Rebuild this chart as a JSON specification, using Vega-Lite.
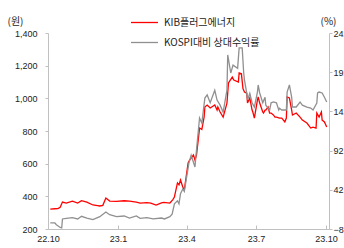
{
  "$schema": "https://vega.github.io/schema/vega-lite/v6.json",
  "width": 281,
  "height": 196,
  "autosize": {"type": "none"},
  "padding": {"left": 48, "top": 33, "right": 15, "bottom": 19},
  "background": "white",
  "config": {
    "view": {"stroke": null},
    "axis": {
      "labelFont": "Liberation Sans",
      "labelFontSize": 9,
      "labelColor": "#222",
      "domainColor": "#c0c0c0",
      "tickColor": "#c0c0c0",
      "grid": false,
      "titleFont": "Noto Sans CJK KR",
      "titleFontSize": 10,
      "titleFontWeight": "normal",
      "titleColor": "#222"
    }
  },
  "datasets": {
    "price": [
      {"d": "2022-10-04", "v": 322}, {"d": "2022-10-10", "v": 324}, {"d": "2022-10-14", "v": 325},
      {"d": "2022-10-17", "v": 333}, {"d": "2022-10-20", "v": 365}, {"d": "2022-10-25", "v": 359},
      {"d": "2022-11-02", "v": 371}, {"d": "2022-11-09", "v": 359}, {"d": "2022-11-14", "v": 373},
      {"d": "2022-11-21", "v": 365}, {"d": "2022-11-29", "v": 347}, {"d": "2022-12-05", "v": 343},
      {"d": "2022-12-08", "v": 341}, {"d": "2022-12-12", "v": 345}, {"d": "2022-12-16", "v": 390},
      {"d": "2022-12-21", "v": 371}, {"d": "2022-12-30", "v": 369}, {"d": "2023-01-09", "v": 373},
      {"d": "2023-01-16", "v": 371}, {"d": "2023-01-25", "v": 365}, {"d": "2023-01-30", "v": 359},
      {"d": "2023-02-08", "v": 362}, {"d": "2023-02-13", "v": 359}, {"d": "2023-02-20", "v": 347},
      {"d": "2023-02-27", "v": 360}, {"d": "2023-03-02", "v": 363}, {"d": "2023-03-10", "v": 359},
      {"d": "2023-03-14", "v": 380}, {"d": "2023-03-16", "v": 396}, {"d": "2023-03-20", "v": 482},
      {"d": "2023-03-22", "v": 470}, {"d": "2023-03-24", "v": 500}, {"d": "2023-03-27", "v": 457},
      {"d": "2023-03-29", "v": 440}, {"d": "2023-04-03", "v": 604}, {"d": "2023-04-05", "v": 622},
      {"d": "2023-04-10", "v": 653}, {"d": "2023-04-12", "v": 622}, {"d": "2023-04-14", "v": 653},
      {"d": "2023-04-17", "v": 775}, {"d": "2023-04-18", "v": 818}, {"d": "2023-04-21", "v": 810},
      {"d": "2023-04-24", "v": 885}, {"d": "2023-04-25", "v": 947}, {"d": "2023-04-28", "v": 959},
      {"d": "2023-05-02", "v": 941}, {"d": "2023-05-08", "v": 959}, {"d": "2023-05-11", "v": 928},
      {"d": "2023-05-12", "v": 947}, {"d": "2023-05-15", "v": 916}, {"d": "2023-05-19", "v": 885},
      {"d": "2023-05-24", "v": 971}, {"d": "2023-05-26", "v": 1094}, {"d": "2023-05-31", "v": 1130},
      {"d": "2023-06-02", "v": 1112}, {"d": "2023-06-08", "v": 1100}, {"d": "2023-06-09", "v": 1155},
      {"d": "2023-06-12", "v": 1150}, {"d": "2023-06-14", "v": 1060}, {"d": "2023-06-16", "v": 1038},
      {"d": "2023-06-19", "v": 1032}, {"d": "2023-06-20", "v": 971}, {"d": "2023-06-23", "v": 1002},
      {"d": "2023-06-26", "v": 928}, {"d": "2023-06-27", "v": 916}, {"d": "2023-06-29", "v": 879},
      {"d": "2023-07-03", "v": 989}, {"d": "2023-07-04", "v": 1008}, {"d": "2023-07-06", "v": 971},
      {"d": "2023-07-10", "v": 916}, {"d": "2023-07-11", "v": 910}, {"d": "2023-07-13", "v": 928},
      {"d": "2023-07-14", "v": 928}, {"d": "2023-07-17", "v": 947}, {"d": "2023-07-19", "v": 910},
      {"d": "2023-07-21", "v": 910}, {"d": "2023-07-24", "v": 898}, {"d": "2023-07-26", "v": 885},
      {"d": "2023-07-28", "v": 885}, {"d": "2023-08-01", "v": 879}, {"d": "2023-08-04", "v": 879},
      {"d": "2023-08-08", "v": 855}, {"d": "2023-08-10", "v": 879}, {"d": "2023-08-11", "v": 1008},
      {"d": "2023-08-14", "v": 1002}, {"d": "2023-08-17", "v": 928}, {"d": "2023-08-18", "v": 898},
      {"d": "2023-08-23", "v": 910}, {"d": "2023-08-28", "v": 885}, {"d": "2023-08-31", "v": 867},
      {"d": "2023-09-06", "v": 849}, {"d": "2023-09-11", "v": 818}, {"d": "2023-09-14", "v": 824},
      {"d": "2023-09-18", "v": 818}, {"d": "2023-09-19", "v": 910}, {"d": "2023-09-22", "v": 885},
      {"d": "2023-09-25", "v": 916}, {"d": "2023-09-26", "v": 867}, {"d": "2023-09-29", "v": 855},
      {"d": "2023-10-02", "v": 824}
    ],
    "rel": [
      {"d": "2022-10-04", "v": -0.3}, {"d": "2022-10-10", "v": -0.3}, {"d": "2022-10-12", "v": -2.5},
      {"d": "2022-10-17", "v": -6}, {"d": "2022-10-19", "v": -6.5}, {"d": "2022-10-20", "v": 4.8},
      {"d": "2022-10-25", "v": 5.6}, {"d": "2022-11-02", "v": 6.4}, {"d": "2022-11-09", "v": 4.8},
      {"d": "2022-11-14", "v": 8.2}, {"d": "2022-11-21", "v": 6}, {"d": "2022-11-29", "v": 3.9},
      {"d": "2022-12-05", "v": 6.4}, {"d": "2022-12-08", "v": 7.7}, {"d": "2022-12-16", "v": 13.7},
      {"d": "2022-12-21", "v": 10.2}, {"d": "2022-12-30", "v": 7.7}, {"d": "2023-01-09", "v": 8.6},
      {"d": "2023-01-16", "v": 6}, {"d": "2023-01-25", "v": 8.6}, {"d": "2023-01-30", "v": 5.6},
      {"d": "2023-02-08", "v": 6.4}, {"d": "2023-02-16", "v": 4.8}, {"d": "2023-02-27", "v": 6},
      {"d": "2023-03-03", "v": 4.8}, {"d": "2023-03-10", "v": 7.7}, {"d": "2023-03-13", "v": 11},
      {"d": "2023-03-16", "v": 24}, {"d": "2023-03-20", "v": 28}, {"d": "2023-03-22", "v": 24},
      {"d": "2023-03-24", "v": 37}, {"d": "2023-03-27", "v": 43}, {"d": "2023-03-29", "v": 40},
      {"d": "2023-04-04", "v": 76}, {"d": "2023-04-07", "v": 86}, {"d": "2023-04-12", "v": 71},
      {"d": "2023-04-14", "v": 93}, {"d": "2023-04-18", "v": 133.6}, {"d": "2023-04-21", "v": 127},
      {"d": "2023-04-25", "v": 159}, {"d": "2023-04-28", "v": 163}, {"d": "2023-05-02", "v": 153},
      {"d": "2023-05-08", "v": 169}, {"d": "2023-05-11", "v": 156.5}, {"d": "2023-05-15", "v": 150},
      {"d": "2023-05-19", "v": 141}, {"d": "2023-05-24", "v": 169}, {"d": "2023-05-25", "v": 214},
      {"d": "2023-05-29", "v": 191}, {"d": "2023-06-01", "v": 201}, {"d": "2023-06-07", "v": 197},
      {"d": "2023-06-09", "v": 223}, {"d": "2023-06-13", "v": 223}, {"d": "2023-06-15", "v": 191},
      {"d": "2023-06-16", "v": 182}, {"d": "2023-06-19", "v": 165}, {"d": "2023-06-20", "v": 156.5},
      {"d": "2023-06-23", "v": 165}, {"d": "2023-06-26", "v": 153}, {"d": "2023-06-29", "v": 147.6},
      {"d": "2023-07-03", "v": 166.7}, {"d": "2023-07-04", "v": 175.7}, {"d": "2023-07-06", "v": 165.5},
      {"d": "2023-07-10", "v": 153}, {"d": "2023-07-13", "v": 160}, {"d": "2023-07-14", "v": 150},
      {"d": "2023-07-19", "v": 143.8}, {"d": "2023-07-21", "v": 153}, {"d": "2023-07-24", "v": 154},
      {"d": "2023-07-28", "v": 153}, {"d": "2023-07-31", "v": 143.8}, {"d": "2023-08-01", "v": 146},
      {"d": "2023-08-04", "v": 143.8}, {"d": "2023-08-10", "v": 143.8}, {"d": "2023-08-11", "v": 166.7},
      {"d": "2023-08-14", "v": 175.7}, {"d": "2023-08-17", "v": 160}, {"d": "2023-08-18", "v": 147.6},
      {"d": "2023-08-23", "v": 147.6}, {"d": "2023-08-28", "v": 154}, {"d": "2023-08-31", "v": 150},
      {"d": "2023-09-06", "v": 147.6}, {"d": "2023-09-11", "v": 146.3}, {"d": "2023-09-14", "v": 143.8},
      {"d": "2023-09-19", "v": 152.7}, {"d": "2023-09-20", "v": 165.5}, {"d": "2023-09-22", "v": 166.7},
      {"d": "2023-09-26", "v": 165.5}, {"d": "2023-09-29", "v": 160}, {"d": "2023-10-02", "v": 154}
    ]
  },
  "layer": [
    {
      "data": {"name": "price"},
      "mark": {"type": "line", "strokeWidth": 1.3, "interpolate": "linear"},
      "encoding": {
        "x": {
          "field": "d", "type": "temporal",
          "scale": {"type": "utc", "domain": [{"year": 2022, "month": 10, "date": 1, "utc": true}, {"year": 2023, "month": 10, "date": 5, "utc": true}]},
          "axis": {
            "title": null,
            "format": "%y.%-m",
            "values": [
              {"year": 2022, "month": 10, "date": 1, "utc": true},
              {"year": 2023, "month": 1, "date": 1, "utc": true},
              {"year": 2023, "month": 4, "date": 1, "utc": true},
              {"year": 2023, "month": 7, "date": 1, "utc": true},
              {"year": 2023, "month": 10, "date": 1, "utc": true}
            ],
            "tickSize": -4,
            "labelPadding": 9,
            "labelFlush": false,
            "labelOverlap": false
          }
        },
        "y": {
          "field": "v", "type": "quantitative",
          "scale": {"domain": [200, 1400], "nice": false, "zero": false},
          "axis": {
            "orient": "left",
            "values": [200, 400, 600, 800, 1000, 1200, 1400],
            "format": ",d",
            "tickSize": 3,
            "labelPadding": 8,
            "title": "(원)",
            "titleAngle": 0,
            "titleAlign": "center",
            "titleBaseline": "middle",
            "titleX": -33,
            "titleY": -12
          }
        },
        "color": {
          "datum": "KIB플러그에너지",
          "type": "nominal",
          "scale": {"domain": ["KIB플러그에너지", "KOSPI대비 상대수익률"], "range": ["#ff0000", "#909090"]},
          "legend": {
            "title": null,
            "orient": "none",
            "legendX": 82,
            "legendY": -25,
            "symbolType": "stroke",
            "symbolSize": 729,
            "symbolStrokeWidth": 1.3,
            "labelFont": "Noto Sans CJK KR",
            "labelFontSize": 10,
            "labelColor": "#222",
            "labelOffset": 5,
            "rowPadding": -10
          }
        }
      }
    },
    {
      "data": {"name": "rel"},
      "mark": {"type": "line", "strokeWidth": 1.3, "interpolate": "linear"},
      "encoding": {
        "x": {"field": "d", "type": "temporal"},
        "y": {
          "field": "v", "type": "quantitative",
          "scale": {"domain": [-8, 242], "nice": false, "zero": false},
          "axis": {
            "orient": "right",
            "values": [-8, 42, 92, 142, 192, 242],
            "tickSize": 3,
            "labelPadding": 1,
            "title": "(%)",
            "titleAngle": 0,
            "titleAlign": "center",
            "titleBaseline": "middle",
            "titleX": -1,
            "titleY": -12
          }
        },
        "color": {"datum": "KOSPI대비 상대수익률", "type": "nominal"}
      }
    }
  ],
  "resolve": {"scale": {"y": "independent"}}
}
